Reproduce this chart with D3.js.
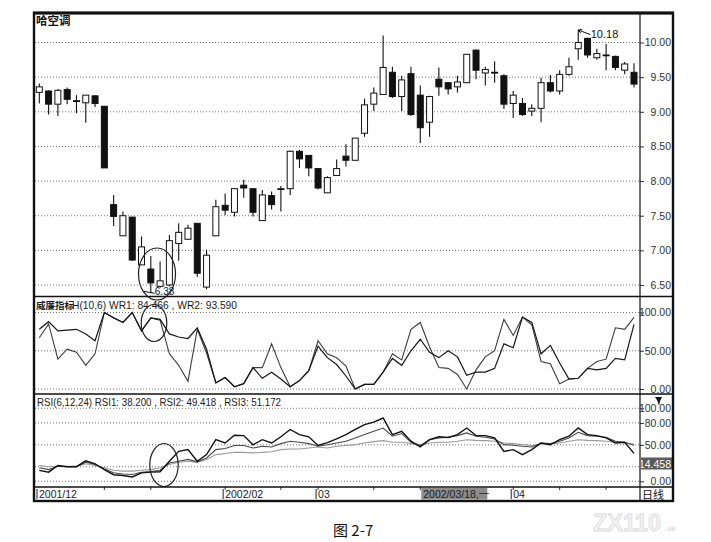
<!DOCTYPE html>
<html><head><meta charset="utf-8">
<script src="https://cdn.jsdelivr.net/npm/d3@7/dist/d3.min.js"></script>
<style>
body{margin:0;background:#fff;}
svg{display:block;font-family:Arial,"Liberation Sans",sans-serif;}
</style></head><body>
<svg id="c" width="711" height="542"></svg>
<script>
// ---- data ----
const opens  = [9.28,9.30,9.11,9.32,9.16,9.13,9.23,9.08,7.66,7.21,7.48,6.79,6.73,6.48,6.50,7.10,7.16,7.39,6.47,7.21,7.65,7.55,7.94,7.89,7.43,7.79,7.88,7.89,8.43,8.37,8.18,7.83,8.08,8.36,8.30,8.69,9.11,9.25,9.57,9.22,9.55,9.24,8.85,9.47,9.42,9.36,9.42,9.89,9.56,9.57,9.52,9.12,9.12,9.01,9.05,9.42,9.30,9.54,9.91,10.06,9.78,9.82,9.80,9.60,9.57];
const highs  = [9.41,9.31,9.33,9.35,9.24,9.24,9.24,9.08,7.80,7.56,7.48,7.20,6.92,6.84,7.22,7.39,7.37,7.39,7.01,7.73,7.82,7.90,8.02,7.89,7.87,7.85,7.93,8.44,8.45,8.37,8.18,8.07,8.31,8.53,8.62,9.19,9.35,10.10,9.65,9.52,9.65,9.38,9.23,9.64,9.43,9.52,9.83,9.90,9.65,9.73,9.54,9.30,9.20,9.11,9.49,9.53,9.60,9.78,10.18,10.07,9.91,9.98,9.81,9.72,9.70];
const lows   = [9.12,8.96,8.94,9.11,8.98,8.84,9.07,8.19,7.35,7.21,6.85,6.79,6.38,6.46,6.48,6.85,7.16,6.62,6.44,7.21,7.51,7.49,7.76,7.49,7.43,7.59,7.56,7.80,8.19,8.07,7.88,7.83,8.08,8.21,8.30,8.64,9.01,9.25,9.20,9.01,8.94,8.55,8.64,9.23,9.25,9.28,9.42,9.47,9.38,9.42,9.04,8.91,8.94,8.94,8.85,9.28,9.25,9.52,9.75,9.78,9.75,9.60,9.60,9.54,9.35];
const closes = [9.36,9.11,9.31,9.18,9.15,9.24,9.12,8.19,7.49,7.50,6.86,7.05,6.53,6.56,7.14,7.26,7.32,6.67,6.93,7.63,7.58,7.89,7.90,7.55,7.80,7.66,7.89,8.43,8.32,8.19,7.90,8.05,8.18,8.30,8.62,9.10,9.27,9.64,9.22,9.46,8.96,8.77,9.22,9.36,9.33,9.43,9.83,9.60,9.61,9.57,9.11,9.24,8.96,9.05,9.42,9.30,9.54,9.65,10.00,9.82,9.84,9.82,9.64,9.69,9.40];

const wr1 = [78,88,76,77,78,72,63,100,93,87,100,76,93,91,72,68,66,80,52,8,15,3,7,28,14,22,13,3,11,24,56,41,32,17,0,6,6,22,40,31,50,65,48,41,50,42,18,22,22,27,59,54,94,87,46,57,34,13,14,27,25,27,40,38,84.466];
const wr2 = [67,85,39,52,48,31,46,100,93,87,100,76,93,90,46,31,10,78,47,8,15,3,7,28,28,59,28,3,11,24,63,46,41,30,0,6,6,22,46,38,78,87,55,28,27,19,0,25,42,50,91,70,94,84,36,33,7,13,14,27,36,39,80,78,93.59];

const rsi1 = [15,12.5,21.6,20,20,28,24,16,9,8,6,11.6,12.5,13,27.5,41,43.4,27.5,36.6,57,52.5,63,62.6,50,57,52.5,61,71,64,61,49,53,58,64,71,77.7,81,86.7,64,68.6,55,47,57,61,60,64,73,62.6,62.6,59.4,41,43.4,36.6,43.4,52.5,50,57,61.7,73,64,62.6,59.4,52.5,53.4,38.2];
const rsi2 = [18.5,16,20.7,20,20,26,23,17,11.6,10,9.3,12.5,13.5,15.2,25,27.5,30,26.6,32,43.4,45,49,49,45.6,48,47,51.6,54.8,53.4,51.6,48,50,52.5,54.8,59.4,64,68.6,73,61.7,65.4,53.4,49,57,59.4,60.3,62.6,66.3,61.7,60.3,58,50.2,49.4,48,47,52.5,51.6,54.8,59.4,67.2,62.6,61.7,60.3,54.8,53.4,49.418];
const rsi3 = [21.6,20,20.7,20.7,20.7,24,21.6,18.5,15.2,14,14,15.2,16,18.5,23,26,27.5,26,30,36.6,38,39.6,39.6,39,39.6,40.5,43.4,44.3,44.3,45.6,47,45.6,48,49,50.2,52.5,54.4,55.7,53.4,53.4,51.6,50.2,52.5,53.4,53.4,54.8,57,56,55.7,54.8,52.5,51.6,50.2,49,51,51.6,52.5,54.8,57,56,55.7,54.8,53.4,52.5,51.172];

const priceTicks = [6.5,7.0,7.5,8.0,8.5,9.0,9.5,10.0];
const wrTicks = [0,50,100];
const rsiGrid = [0,20,50,80,100];
const rsiLabels = [0,50,80,100];
const monthLabels = [{i:0,t:"2001/12"},{i:20,t:"2002/02"},{i:30,t:"03"},{i:51,t:"04"}];
const weekTicks = [7,12,20,26,30,36,41,51,56,61];
const cursorLabel = {i:41, t:"2002/03/18,一"};
const lowMark = {i:12, v:6.38};
const highMark = {i:58, v:10.18};

// ---- layout ----
const L=35, R=640, RR=672, T=14, B=500;
const yMainBot=296.5, yWrBot=394, yRsiBot=487;
const svg=d3.select("#c");

const x = d3.scaleLinear().domain([0,64]).range([39.3,634]);
const yP = d3.scaleLinear().domain([6.5,10]).range([285,42.5]);
const yW = d3.scaleLinear().domain([0,100]).range([389,312.5]);
const yR = d3.scaleLinear().domain([0,100]).range([481.3,408.3]);

svg.append("rect").attr("x",L-1).attr("y",T-1).attr("width",RR-L+2).attr("height",B-T+2).attr("fill","#fff");

// watermark
svg.append("text").attr("x",593).attr("y",531).attr("font-size",24).attr("font-weight","bold")
  .attr("textLength",68).attr("lengthAdjust","spacingAndGlyphs")
  .attr("fill","#f3f3f3").attr("stroke","#dcdcdc").attr("stroke-width",0.8).text("ZX110");
svg.append("text").attr("x",665).attr("y",531).attr("font-size",8).attr("fill","#cfcfcf").text(".uk");

// caption
svg.append("text").attr("x",333).attr("y",536).attr("font-size",15)
  .attr("font-family","'Noto Sans CJK SC','DejaVu Serif',serif").attr("fill","#111").text("图 2-7");

// gridlines
const grid = svg.append("g").attr("stroke","#666").attr("stroke-dasharray","1,2").attr("stroke-width",0.9);
priceTicks.forEach(v=>grid.append("line").attr("x1",L).attr("x2",R).attr("y1",yP(v)).attr("y2",yP(v)));
wrTicks.forEach(v=>grid.append("line").attr("x1",L).attr("x2",R).attr("y1",yW(v)).attr("y2",yW(v)));
rsiGrid.forEach(v=>grid.append("line").attr("x1",L).attr("x2",R).attr("y1",yR(v)).attr("y2",yR(v)));

// right axes
function styleAxis(g){
  g.select(".domain").remove();
  g.selectAll(".tick line").attr("stroke","#333");
  g.selectAll(".tick text").attr("x",31).attr("text-anchor","end").attr("fill","#333").attr("font-size",10.5);
}
svg.append("g").attr("transform",`translate(${R},0)`)
  .call(d3.axisRight(yP).tickValues(priceTicks).tickSize(4).tickFormat(d3.format(".2f"))).call(styleAxis);
svg.append("g").attr("transform",`translate(${R},0)`)
  .call(d3.axisRight(yW).tickValues(wrTicks).tickSize(4).tickFormat(d3.format(".2f"))).call(styleAxis);
svg.append("g").attr("transform",`translate(${R},0)`)
  .call(d3.axisRight(yR).tickValues(rsiLabels).tickSize(4).tickFormat(d3.format(".2f"))).call(styleAxis);

// candles
const idx = d3.range(closes.length);
const cg = svg.append("g");
cg.selectAll("line.w").data(idx).join("line")
  .attr("x1",i=>x(i)).attr("x2",i=>x(i)).attr("y1",i=>yP(highs[i])).attr("y2",i=>yP(lows[i]))
  .attr("stroke","#111").attr("stroke-width",1.1);
cg.selectAll("rect.b").data(idx).join("rect")
  .attr("x",i=>x(i)-3).attr("width",6)
  .attr("y",i=>yP(Math.max(opens[i],closes[i])))
  .attr("height",i=>Math.max(0.8,Math.abs(yP(opens[i])-yP(closes[i]))))
  .attr("fill",i=>closes[i]>opens[i]?"#fff":"#111")
  .attr("stroke","#111").attr("stroke-width",1);

// extreme marks
const hx=x(highMark.i), hy=yP(highMark.v);
svg.append("path").attr("d",`M${hx},${hy} L${hx+12},${hy+4.5} M${hx},${hy} l4,-0.5 M${hx},${hy} l2.5,3`).attr("stroke","#111").attr("fill","none");
svg.append("text").attr("x",hx+12.5).attr("y",hy+8).attr("font-size",11).attr("fill","#111").text(highMark.v.toFixed(2));
const lx=x(lowMark.i), ly=yP(lowMark.v);
svg.append("path").attr("d",`M${lx-7},${ly-2} L${lx+4},${ly}`).attr("stroke","#111").attr("fill","none");
svg.append("text").attr("x",lx+4).attr("y",295).attr("font-size",10).attr("fill","#111").text(lowMark.v.toFixed(2));

// WR lines
const lineW = d3.line().x((d,i)=>x(i)).y(d=>yW(d));
svg.append("path").datum(wr2).attr("d",lineW).attr("fill","none").attr("stroke","#3c3c3c").attr("stroke-width",1.1);
svg.append("path").datum(wr1).attr("d",lineW).attr("fill","none").attr("stroke","#161616").attr("stroke-width",1.2);

// RSI lines
const lineR = d3.line().x((d,i)=>x(i)).y(d=>yR(d));
svg.append("path").datum(rsi3).attr("d",lineR).attr("fill","none").attr("stroke","#9a9a9a").attr("stroke-width",1.1);
svg.append("path").datum(rsi2).attr("d",lineR).attr("fill","none").attr("stroke","#4a4a4a").attr("stroke-width",1.1);
svg.append("path").datum(rsi1).attr("d",lineR).attr("fill","none").attr("stroke","#111").attr("stroke-width",1.4);

// hand-drawn ellipses
const ell = svg.append("g").attr("fill","none").attr("stroke","#222").attr("stroke-width",1.2);
ell.append("ellipse").attr("cx",157).attr("cy",274).attr("rx",18.5).attr("ry",26);
ell.append("ellipse").attr("cx",154).attr("cy",323).attr("rx",12.8).attr("ry",18.5);
ell.append("ellipse").attr("cx",164).attr("cy",465).attr("rx",14.2).attr("ry",21.5);

// headers
svg.append("text").attr("x",36).attr("y",25).attr("font-size",11.5).attr("font-weight","bold")
  .attr("font-family","'Noto Sans CJK SC',sans-serif").attr("fill","#111").text("哈空调");
svg.append("text").attr("x",36).attr("y",309).attr("font-size",9.5).attr("font-weight","bold")
  .attr("font-family","'Noto Sans CJK SC',sans-serif").attr("fill","#1a1a1a").text("威廉指标");
svg.append("text").attr("x",72).attr("y",309).attr("font-size",11).attr("fill","#1a1a1a")
  .attr("textLength",165).attr("lengthAdjust","spacingAndGlyphs")
  .text("H(10,6) WR1: 84.466 , WR2: 93.590");
svg.append("text").attr("x",37).attr("y",406).attr("font-size",11).attr("fill","#1a1a1a")
  .attr("textLength",244).attr("lengthAdjust","spacingAndGlyphs")
  .text("RSI(6,12,24) RSI1: 38.200 , RSI2: 49.418 , RSI3: 51.172");

// value box in RSI axis
svg.append("rect").attr("x",R+1).attr("y",457.5).attr("width",RR-R-1).attr("height",12).attr("fill","#5a5a5a");
svg.append("text").attr("x",RR-1).attr("y",467.5).attr("text-anchor","end").attr("font-size",10.5).attr("fill","#fff").text("14.458");
svg.append("path").attr("d","M655,397 L662,397 L660,401 L659,406 L657.5,401 Z").attr("fill","#111");

// date axis
const dg = svg.append("g");
dg.selectAll("line.wt").data(weekTicks).join("line")
  .attr("x1",i=>x(i)).attr("x2",i=>x(i)).attr("y1",yRsiBot).attr("y2",yRsiBot+3).attr("stroke","#333");
dg.selectAll("line.mt").data(monthLabels).join("line")
  .attr("x1",d=>d.i===0?37:x(d.i)-2).attr("x2",d=>d.i===0?37:x(d.i)-2).attr("y1",yRsiBot+2).attr("y2",B-1).attr("stroke","#222");
dg.selectAll("text").data(monthLabels).join("text")
  .attr("x",d=>(d.i===0?37:x(d.i)-2)+2).attr("y",498).attr("font-size",10.5).attr("fill","#222").text(d=>d.t);
const cxl = x(cursorLabel.i)+1;
svg.append("rect").attr("x",cxl).attr("y",488).attr("width",66).attr("height",11.5).attr("fill","#8c8c8c");
svg.append("text").attr("x",cxl+2).attr("y",498).attr("font-size",10.5).attr("fill","#222")
  .attr("font-family","Arial,'Noto Sans CJK SC',sans-serif").text(cursorLabel.t);
svg.append("text").attr("x",R+2).attr("y",498.5).attr("font-size",11)
  .attr("font-family","'Noto Sans CJK SC',sans-serif").attr("fill","#111").text("日线");

// frame and separators
const fr = svg.append("g").attr("stroke","#111").attr("fill","none");
fr.append("line").attr("x1",L).attr("x2",RR).attr("y1",yMainBot).attr("y2",yMainBot).attr("stroke-width",1.6);
fr.append("line").attr("x1",L).attr("x2",RR).attr("y1",yWrBot).attr("y2",yWrBot).attr("stroke-width",1.6);
fr.append("line").attr("x1",L).attr("x2",RR).attr("y1",yRsiBot).attr("y2",yRsiBot).attr("stroke-width",1.6);
fr.append("line").attr("x1",R).attr("x2",R).attr("y1",T).attr("y2",B).attr("stroke-width",1.2);
fr.append("rect").attr("x",L-1).attr("y",T-1).attr("width",RR-L+2).attr("height",B-T+2).attr("stroke-width",2.4);
fr.append("line").attr("x1",L-2).attr("x2",RR+2).attr("y1",T-1).attr("y2",T-1).attr("stroke-width",3);
</script>
</body></html>
